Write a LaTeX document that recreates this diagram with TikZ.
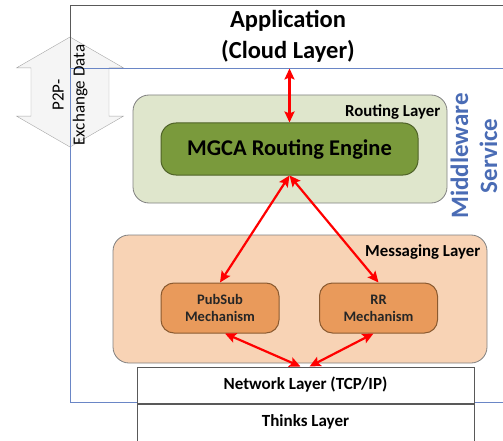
\documentclass[tikz,border=0pt]{standalone}
\usepackage{fontspec}
\setmainfont{Carlito}
\usetikzlibrary{arrows.meta,shapes.arrows}

\definecolor{mwblue}{HTML}{4A6CB5}
\definecolor{mwline}{HTML}{6A86C6}
\definecolor{routegreen}{HTML}{DFE6CC}
\definecolor{mgcagreen}{HTML}{7A9A3C}
\definecolor{mgcaborder}{HTML}{4F6228}
\definecolor{msgpeach}{HTML}{F8D3B5}
\definecolor{mechorange}{HTML}{E99A5B}
\definecolor{mechborder}{HTML}{8A5A30}

\begin{document}
\begin{tikzpicture}[x=1pt,y=1pt,>={Stealth[length=11pt,width=10pt,inset=2pt]}]
	\tikzstyle{every node}=[inner sep=0pt]
	\tikzstyle{box}=[draw=black!50,line width=0.8pt,rounded corners=16pt]
	\tikzstyle{tag}=[anchor=north east,font=\fontsize{16.8}{20}\selectfont\bfseries]
	\tikzstyle{mech}=[draw=mechborder,line width=1pt,fill=mechorange,rounded corners=13pt,minimum width=118pt,minimum height=50pt,align=center,text=black!85,font=\fontsize{14.5}{17}\selectfont\bfseries]
	\tikzstyle{layer}=[draw=black!65,line width=1pt,fill=white,minimum width=337pt,minimum height=36pt,font=\fontsize{17}{20}\selectfont\bfseries]
	\tikzstyle{link}=[<->,red,line width=2.2pt]
	
	\clip (0,0) rectangle (503,-441);
	
	\node[double arrow,double arrow tip angle=120,draw=black!35,fill=black!4,rotate=90,minimum height=110pt,minimum width=107pt,inner xsep=0pt,inner ysep=19pt] (p2p) at (70,-92) {};
	
	\node[draw=black!65,line width=0.9pt,minimum width=436pt,minimum height=63pt,align=center,font=\fontsize{24.5}{31}\selectfont\bfseries] (app) at (288,-36.5) {Application\\(Cloud Layer)};
	\node[draw=mwline,line width=0.9pt,minimum width=436pt,minimum height=334pt] (mw) at (288,-235) {};
	
	\node[rotate=90,align=center,font=\fontsize{17}{21}\selectfont] (p2ptext) at (70,-95) {P2P-\\Exchange Data};
	\node[rotate=90,align=center,text=mwblue,font=\fontsize{25}{29}\selectfont\bfseries] (mwtext) at (474,-156) {Middleware\\Service};
	
	\node[box,fill=routegreen,minimum width=314pt,minimum height=108pt] (routing) at (290,-149) {};
	\node[tag] (routingtag) at ([xshift=-7pt,yshift=-10pt]routing.north east) {Routing Layer};
	\node[draw=mgcaborder,line width=1pt,fill=mgcagreen,rounded corners=15pt,minimum width=257pt,minimum height=52pt,font=\fontsize{22.5}{26}\selectfont\bfseries] (mgca) at (289.5,-149) {MGCA Routing Engine};
	
	\node[box,fill=msgpeach,minimum width=374pt,minimum height=128pt] (messaging) at (300,-299) {};
	\node[tag] (messagingtag) at ([xshift=-7pt,yshift=-10pt]messaging.north east) {Messaging Layer};
	\node[mech] (pubsub) at (220,-308) {PubSub\\Mechanism};
	\node[mech] (rr) at (378.5,-308) {RR\\Mechanism};
	
	\node[layer] (network) at (305.5,-385) {Network Layer (TCP/IP)};
	\node[layer,anchor=north,minimum height=50pt,text depth=16pt] (thinks) at (network.south) {Thinks Layer};
	
	\draw[link] (mgca.north) -- (mgca.north |- app.south);
	\draw[link] (mgca.south) -- (pubsub.north);
	\draw[link] (mgca.south) -- (rr.north);
	\draw[link] ([xshift=5pt]pubsub.south) -- ([xshift=-5pt]network.north);
	\draw[link] ([xshift=-5pt]rr.south) -- ([xshift=4pt]network.north);
\end{tikzpicture}
\end{document}
